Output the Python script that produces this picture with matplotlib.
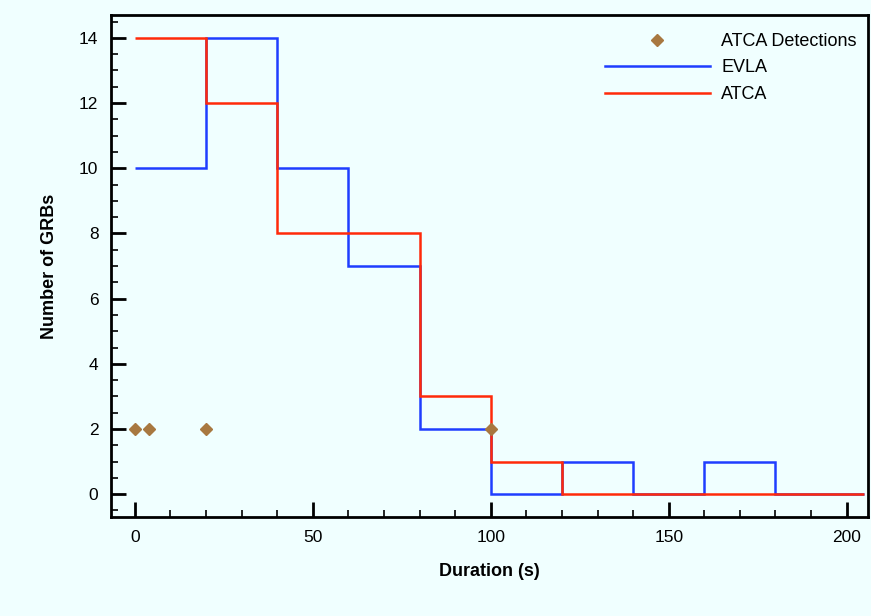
import numpy as np
import matplotlib
matplotlib.use('Agg')
import matplotlib.pyplot as plt
from matplotlib.ticker import MultipleLocator

plt.rcParams['font.family'] = ['Liberation Sans', 'DejaVu Sans']

# histogram bin edges (s) and counts
edges = [0, 20, 40, 60, 80, 100, 120, 140, 160, 180, 200, 205]
evla_counts = [10, 14, 10, 7, 2, 0, 1, 0, 1, 0, 0]
atca_counts = [14, 12, 8, 8, 3, 1, 0, 0, 0, 0, 0]

# ATCA detections
det_dur = [0, 4, 20, 100]
det_num = [2, 2, 2, 2]

bg = '#f0ffff'
fig = plt.figure(figsize=(8.71, 6.16), dpi=100, facecolor=bg)
ax = fig.add_axes([0.1274, 0.1607, 0.8692, 0.8149], facecolor=bg)

ax.plot(det_dur, det_num, linestyle='none', marker='D', markersize=6,
        color='#a87840', label='ATCA Detections', zorder=4)
ax.stairs(evla_counts, edges, baseline=None, color='#1f3dff', lw=1.8,
          label='EVLA', zorder=2)
ax.stairs(atca_counts, edges, baseline=None, color='#ff2a0a', lw=1.8,
          label='ATCA', zorder=3)

ax.set_xlim(-6.7, 206)
ax.set_ylim(-0.7, 14.7)
ax.xaxis.set_major_locator(MultipleLocator(50))
ax.xaxis.set_minor_locator(MultipleLocator(10))
ax.yaxis.set_major_locator(MultipleLocator(2))
ax.yaxis.set_minor_locator(MultipleLocator(0.5))
ax.tick_params(which='both', direction='in', width=2, labelsize=12.5,
               top=False, right=False)
ax.tick_params(which='major', length=11, pad=9)
ax.tick_params(which='minor', length=5, width=1.2)
for s in ax.spines.values():
    s.set_linewidth(2)

ax.set_xlabel('Duration (s)', fontsize=13, fontweight='bold', labelpad=13)
ax.set_ylabel('Number of GRBs', fontsize=13, fontweight='bold', labelpad=15.5)

ax.legend(loc='upper right', bbox_to_anchor=(1.009, 1.0), frameon=False,
          fontsize=13, handlelength=5.8, borderaxespad=0.6,
          handletextpad=0.65, labelspacing=0.52)

fig.savefig('out.png', dpi=100, facecolor=bg)
